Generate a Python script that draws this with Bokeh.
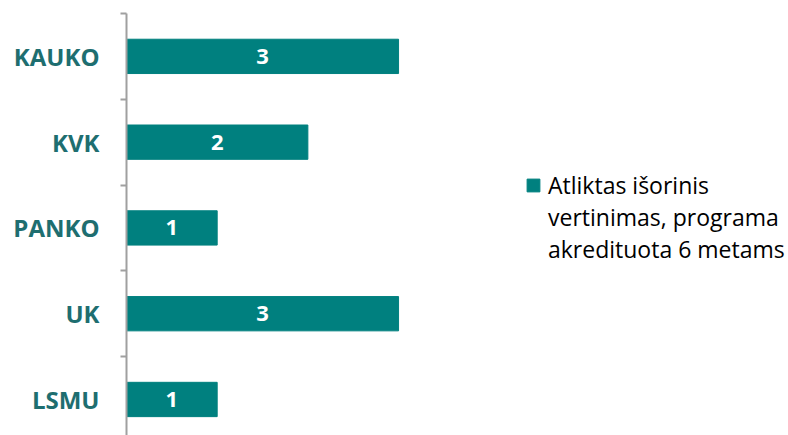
from bokeh.plotting import figure
from bokeh.models import Range1d, FixedTicker, ColumnDataSource, LabelSet, Legend, LegendItem
from bokeh.core.properties import value
from bokeh.embed import file_html
from bokeh.resources import INLINE

categories = ["KAUKO", "KVK", "PANKO", "UK", "LSMU"]
values = [3, 2, 1, 3, 1]
series_name_lines = ["Atliktas išorinis", "vertinimas, programa", "akredituota 6 metams"]

BAR = "#00807F"
LABEL = "#1E6E70"

pos = [i + 0.5 for i in range(len(categories))]
src = ColumnDataSource(dict(y=pos, v=values, mid=[v / 2 for v in values], t=[str(v) for v in values]))

p = figure(width=788, height=435, output_backend="svg", toolbar_location=None,
           x_range=Range1d(0, 7.3), y_range=Range1d(4.92, 0),
           min_border_left=126, min_border_top=13, min_border_bottom=0, min_border_right=0)
p.outline_line_color = None
p.grid.visible = False
p.xaxis.visible = False

r = p.hbar(y="y", right="v", left=0, height=0.4, color=BAR, source=src)
# transparent stand-in so the continuation lines of the legend label carry no swatch
r2 = p.hbar(y=[], right=[], left=0, height=0.4, fill_alpha=0, line_alpha=0)

labels = LabelSet(x="mid", y="y", text="t", source=src, text_align="center", text_baseline="middle",
                  text_color="white", text_font=value("Open Sans"), text_font_style="bold",
                  text_font_size="22px")
p.add_layout(labels)

ax = p.yaxis[0]
ax.ticker = FixedTicker(ticks=pos, minor_ticks=[float(i) for i in range(len(categories) + 1)])
ax.major_label_overrides = {pv: c for pv, c in zip(pos, categories)}
ax.major_tick_in = 0
ax.major_tick_out = 0
ax.minor_tick_in = 0
ax.minor_tick_out = 6
ax.minor_tick_line_color = "#A0A0A0"
ax.minor_tick_line_width = 2
ax.axis_line_color = "#A0A0A0"
ax.axis_line_width = 2
ax.major_label_standoff = 21
ax.major_label_text_font = "Open Sans"
ax.major_label_text_font_style = "bold"
ax.major_label_text_font_size = "24px"
ax.major_label_text_color = LABEL

legend = Legend(items=[LegendItem(label=series_name_lines[0], renderers=[r]),
                       LegendItem(label="\n".join(series_name_lines[1:]), renderers=[r2])],
                location=(399, 170))
legend.border_line_color = None
legend.background_fill_alpha = 0
legend.padding = 0
legend.margin = 0
legend.spacing = 0
legend.glyph_width = 16
legend.glyph_height = 16
legend.label_standoff = 7
legend.label_text_font = "Open Sans"
legend.label_text_font_size = "23px"
legend.label_text_line_height = 1.37
legend.label_text_color = "#000000"
p.add_layout(legend)

open("out.html", "w").write(file_html(p, INLINE))
